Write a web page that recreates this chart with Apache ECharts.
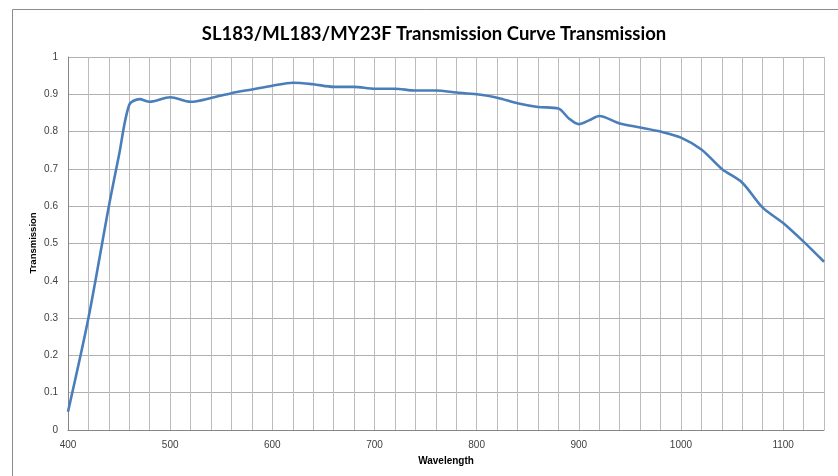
<!DOCTYPE html>
<html><head><meta charset="utf-8">
<script src="https://cdn.jsdelivr.net/npm/echarts@6/dist/echarts.min.js"></script>
<style>html,body{margin:0;padding:0;background:#fff}#c{width:838px;height:476px}</style>
</head><body><div id="c"></div>
<script>
const titleText = 'SL183/ML183/MY23F Transmission Curve Transmission';
const xName = 'Wavelength';
const yName = 'Transmission';
const wavelengths = [400,420,440,450,460,470,480,500,520,540,560,580,600,620,640,660,680,700,720,740,760,780,800,820,840,860,880,890,900,910,920,940,960,980,1000,1020,1040,1060,1080,1100,1120,1140];
const transmission = [0.049,0.30,0.60,0.738,0.872,0.887,0.88,0.892,0.88,0.89,0.903,0.913,0.923,0.931,0.927,0.92,0.92,0.915,0.915,0.91,0.91,0.905,0.90,0.891,0.876,0.866,0.862,0.836,0.82,0.83,0.842,0.822,0.811,0.80,0.784,0.752,0.70,0.663,0.596,0.555,0.505,0.451];

const chart = echarts.init(document.getElementById('c'), null, {renderer:'canvas'});
chart.setOption({
  animation:false,
  backgroundColor:'#fff',
  graphic:[
    {type:'rect',shape:{x:12.5,y:9.5,width:900,height:600},style:{fill:null,stroke:'#8c8c8c',lineWidth:1},silent:true,z:-1},
    {type:'text',x:33,y:243,rotation:Math.PI/2,silent:true,
      style:{text:yName,fontFamily:'Liberation Sans',fontWeight:'bold',fontSize:9.5,fill:'#000',align:'center',verticalAlign:'middle'}}
  ],
  title:{text:titleText,left:429,top:20,textAlign:'center',
    textStyle:{fontFamily:'Lato',fontWeight:'bold',fontSize:18.5,color:'#000'}},
  grid:{left:68,right:14,top:57,bottom:46,containLabel:false},
  xAxis:{type:'value',min:400,max:1140,interval:20,
    name:xName,nameLocation:'middle',nameGap:26,
    nameTextStyle:{fontFamily:'Liberation Sans',fontWeight:'bold',fontSize:10,color:'#000'},
    axisLine:{show:true,lineStyle:{color:'#868686',width:1}},
    axisTick:{show:false},
    axisLabel:{fontFamily:'Liberation Sans',fontSize:10,color:'#404040',margin:10,
      formatter:v=> (v%100===0 ? String(v) : '')},
    splitLine:{show:true,lineStyle:{color:'#bcbcbc',width:1}}},
  yAxis:{type:'value',min:0,max:1,interval:0.1,
    axisLine:{show:true,lineStyle:{color:'#868686',width:1}},
    axisTick:{show:false},
    axisLabel:{fontFamily:'Liberation Sans',fontSize:10,color:'#404040',margin:10,
      formatter:v=> String(Math.round(v*10)/10)},
    splitLine:{show:true,lineStyle:{color:'#b0b0b0',width:1}}},
  series:[{type:'line',data:wavelengths.map((w,i)=>[w,transmission[i]]),
    smooth:0.3,showSymbol:false,symbol:'none',
    lineStyle:{color:'#4a7ebb',width:2.6}}]
});
</script></body></html>
